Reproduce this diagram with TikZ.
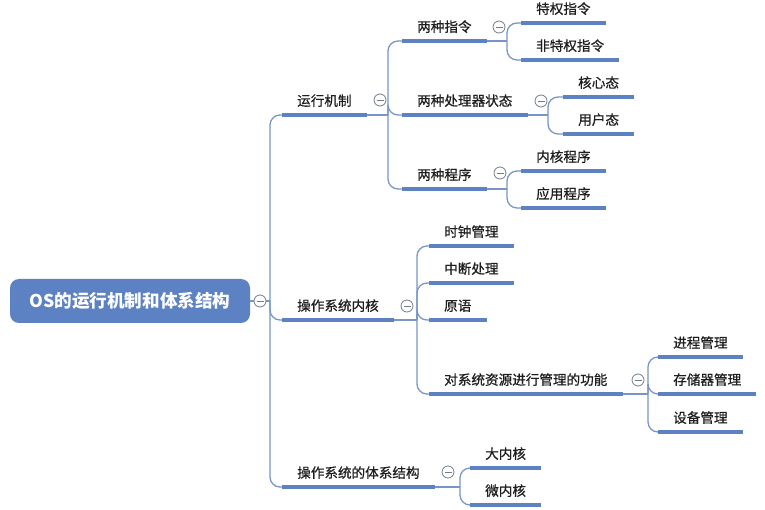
\documentclass[tikz,border=0pt]{standalone}
\usepackage{fontspec}
\newfontfamily\cjk[FakeBold=0.7]{Noto Sans CJK SC}
\newfontfamily\cjkroot{Noto Sans CJK SC}
\usetikzlibrary{positioning, calc}
\definecolor{topicblue}{RGB}{92,130,196}
\definecolor{linkblue}{RGB}{120,148,200}
\definecolor{foldgray}{RGB}{115,125,140}
\definecolor{inkgray}{RGB}{30,30,30}

\begin{document}
\begin{tikzpicture}[x=1pt, y=-1pt,
  topic/.style={font=\cjk\fontsize{13.6}{16}\selectfont, text=inkgray,
    anchor=south west, inner xsep=15pt, inner ysep=7pt,
    text height=11pt, text depth=2pt},
  rootbox/.style={rounded corners=9pt, fill=topicblue, text=white,
    font=\cjkroot\bfseries\fontsize{17.6}{20}\selectfont,
    minimum width=240pt, minimum height=44pt},
  uline/.style={topicblue, line width=3.8pt},
  link/.style={linkblue, line width=1.3pt, rounded corners=10pt},
  foldmark/.style={circle, draw=foldgray, fill=white, line width=0.8pt,
    minimum size=12pt, inner sep=0pt,
    path picture={\draw[foldgray, line width=0.8pt]
      ([xshift=-3.5pt]path picture bounding box.center) --
      ([xshift=3.5pt]path picture bounding box.center);}}]

  \useasboundingbox (0,0) rectangle (765,510);

  % --- Root ---
  \node[rootbox] (root) at (130,301) {OS的运行机制和体系结构};

  % --- Level 1 ---
  \node[topic] (run)    at (282,115) {运行机制};
  \node[topic] (kernel) at (282,320) {操作系统内核};
  \node[topic] (arch)   at (282,487) {操作系统的体系结构};

  % --- Level 2: run ---
  \node[topic] (instr) at (402,41)  {两种指令};
  \node[topic] (state) at (402,115) {两种处理器状态};
  \node[topic] (prog)  at (402,189) {两种程序};

  % --- Level 2: kernel ---
  \node[topic] (clock) at (429,246) {时钟管理};
  \node[topic] (intr)  at (429,283) {中断处理};
  \node[topic] (prim)  at (429,320) {原语};
  \node[topic] (res)   at (429,394) {对系统资源进行管理的功能};

  % --- Level 2: arch ---
  \node[topic] (big)   at (470,468) {大内核};
  \node[topic] (micro) at (470,505) {微内核};

  % --- Level 3 ---
  \node[topic] (priv)    at (521,23)  {特权指令};
  \node[topic] (nonpriv) at (521,60)  {非特权指令};
  \node[topic] (coreSt)  at (563,97)  {核心态};
  \node[topic] (userSt)  at (563,134) {用户态};
  \node[topic] (kprog)   at (521,171) {内核程序};
  \node[topic] (aprog)   at (521,208) {应用程序};
  \node[topic] (procm)   at (658,357) {进程管理};
  \node[topic] (store)   at (658,394) {存储器管理};
  \node[topic] (dev)     at (658,432) {设备管理};

  % --- Junctions ---
  \coordinate (jRoot)   at (270,301);
  \coordinate (jRun)    at (388,115);
  \coordinate (jKernel) at (417,320);
  \coordinate (jArch)   at (460,487);
  \coordinate (jInstr)  at (507,41);
  \coordinate (jState)  at (548,115);
  \coordinate (jProg)   at (507,189);
  \coordinate (jRes)    at (648,394);

  % --- Connectors ---
  \draw[link] (root.east) -- (jRoot);
  \foreach \c in {run,kernel,arch}
    \draw[link] (jRoot) |- (\c.south west);

  \draw[link] (run.south east) -- (jRun);
  \foreach \c in {instr,state,prog}
    \draw[link] (jRun) |- (\c.south west);

  \draw[link] (kernel.south east) -- (jKernel);
  \foreach \c in {clock,intr,prim,res}
    \draw[link] (jKernel) |- (\c.south west);

  \draw[link] (arch.south east) -- (jArch);
  \foreach \c in {big,micro}
    \draw[link] (jArch) |- (\c.south west);

  \draw[link] (instr.south east) -- (jInstr);
  \foreach \c in {priv,nonpriv}
    \draw[link] (jInstr) |- (\c.south west);

  \draw[link] (state.south east) -- (jState);
  \foreach \c in {coreSt,userSt}
    \draw[link] (jState) |- (\c.south west);

  \draw[link] (prog.south east) -- (jProg);
  \foreach \c in {kprog,aprog}
    \draw[link] (jProg) |- (\c.south west);

  \draw[link] (res.south east) -- (jRes);
  \foreach \c in {procm,store,dev}
    \draw[link] (jRes) |- (\c.south west);

  % --- Underlines ---
  \foreach \n in {run,kernel,arch,instr,state,prog,clock,intr,prim,res,
                  big,micro,priv,nonpriv,coreSt,userSt,kprog,aprog,
                  procm,store,dev}
    \draw[uline] (\n.south west) -- (\n.south east);

  % --- Fold markers ---
  \node[foldmark] (fRoot)   at (260,301) {};
  \node[foldmark] (fRun)    at (380,100) {};
  \node[foldmark] (fKernel) at (407,306) {};
  \node[foldmark] (fArch)   at (448,472) {};
  \node[foldmark] (fInstr)  at (499,27)  {};
  \node[foldmark] (fState)  at (541,101) {};
  \node[foldmark] (fProg)   at (500,173) {};
  \node[foldmark] (fRes)    at (638,380) {};

\end{tikzpicture}
\end{document}
